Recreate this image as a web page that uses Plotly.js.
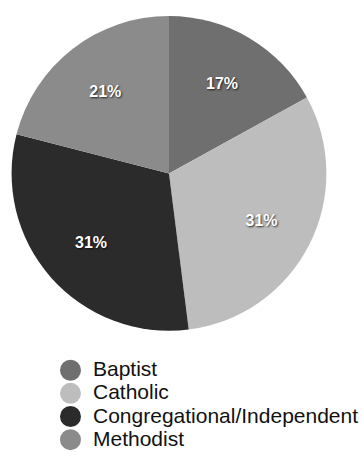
<!DOCTYPE html>
<html>
<head>
<meta charset="utf-8">
<script src="https://cdn.plot.ly/plotly-3.0.1.min.js"></script>
<style>
  html, body { margin: 0; padding: 0; background: #ffffff; }
  #chart { width: 364px; height: 457px; }
</style>
</head>
<body>
<div id="chart"></div>
<script>
// Data
const categories = ['Baptist', 'Catholic', 'Congregational/Independent', 'Methodist'];
const shares = [17, 31, 31, 21];
const sliceColors = ['#6f6f6f', '#bdbdbd', '#2b2b2b', '#8b8b8b'];

const pieDomain = { x: [0.0192, 0.9093], y: [0.255, 0.964] };

// Filled slices (no text)
const pieTrace = {
  type: 'pie',
  labels: categories,
  values: shares,
  sort: false,
  direction: 'clockwise',
  rotation: 0,
  marker: { colors: sliceColors, line: { width: 0 } },
  textinfo: 'none',
  hoverinfo: 'none',
  showlegend: false,
  domain: pieDomain
};

// Transparent ring carrying the percentage labels at mid-radius
const labelTrace = {
  type: 'pie',
  labels: categories,
  values: shares,
  sort: false,
  direction: 'clockwise',
  rotation: 0,
  hole: 0.32,
  marker: { colors: categories.map(() => 'rgba(0,0,0,0)'), line: { width: 0 } },
  textinfo: 'percent',
  textposition: 'inside',
  insidetextorientation: 'horizontal',
  textfont: {
    family: 'Liberation Sans, Arial, sans-serif',
    size: 16,
    weight: 'bold',
    color: '#ffffff',
    shadow: '1px 1px 2px rgba(0,0,0,0.75)'
  },
  hoverinfo: 'none',
  showlegend: false,
  domain: pieDomain
};

const legendTraces = categories.map((name, i) => ({
  type: 'scatter',
  mode: 'markers',
  x: [null],
  y: [null],
  name: '<span style="font-size:21px">' + name + '</span>',
  marker: { symbol: 'circle', size: 16, color: sliceColors[i], line: { width: 5, color: sliceColors[i] } },
  hoverinfo: 'none',
  showlegend: true
}));

const layout = {
  width: 364,
  height: 457,
  margin: { l: 0, r: 0, t: 0, b: 0 },
  paper_bgcolor: '#ffffff',
  plot_bgcolor: '#ffffff',
  showlegend: true,
  xaxis: { visible: false },
  yaxis: { visible: false },
  legend: {
    x: 0.137,
    xanchor: 'left',
    y: 1 - 364 / 457,
    yanchor: 'top',
    orientation: 'v',
    itemsizing: 'trace',
    itemwidth: 35,
    bgcolor: 'rgba(0,0,0,0)',
    borderwidth: 0,
    font: { family: 'Liberation Sans, Arial, sans-serif', size: 15.5, color: '#111111' }
  }
};

Plotly.newPlot('chart', [pieTrace, labelTrace].concat(legendTraces), layout, { displayModeBar: false, staticPlot: true });
</script>
</body>
</html>
